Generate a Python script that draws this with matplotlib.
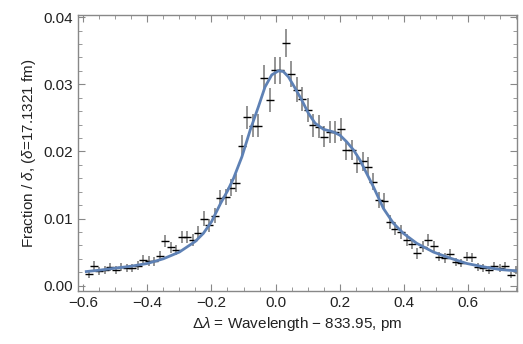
import numpy as np
import matplotlib
matplotlib.use('Agg')
import matplotlib.pyplot as plt
from matplotlib.ticker import MultipleLocator

plt.rcParams['font.family'] = ['Liberation Sans', 'DejaVu Sans']
plt.rcParams['mathtext.fontset'] = 'custom'
plt.rcParams['mathtext.rm'] = 'Liberation Sans'
plt.rcParams['mathtext.it'] = 'Liberation Sans:italic'

# measured points
x_data = [-0.583, -0.566, -0.549, -0.532, -0.515, -0.498, -0.481, -0.463, -0.446, -0.429,
          -0.412, -0.395, -0.378, -0.361, -0.344, -0.327, -0.310, -0.293, -0.276, -0.258,
          -0.241, -0.224, -0.207, -0.190, -0.173, -0.156, -0.139, -0.122, -0.105, -0.088,
          -0.071, -0.054, -0.036, -0.019, -0.002, 0.015, 0.032, 0.049, 0.066, 0.083,
          0.100, 0.117, 0.134, 0.151, 0.168, 0.186, 0.203, 0.220, 0.237, 0.254,
          0.271, 0.288, 0.305, 0.322, 0.339, 0.356, 0.373, 0.390, 0.408, 0.425,
          0.442, 0.459, 0.476, 0.493, 0.510, 0.527, 0.544, 0.561, 0.578, 0.595,
          0.612, 0.630, 0.647, 0.664, 0.681, 0.698, 0.715, 0.732, 0.749]
y_data = [0.0017, 0.0030, 0.0022, 0.0023, 0.0028, 0.0023, 0.0028, 0.0026, 0.0026, 0.0030,
          0.0038, 0.0037, 0.0036, 0.0044, 0.0067, 0.0057, 0.0053, 0.0072, 0.0073, 0.0068,
          0.0079, 0.0100, 0.0090, 0.0104, 0.0130, 0.0132, 0.0146, 0.0153, 0.0208, 0.0251,
          0.0238, 0.0238, 0.0309, 0.0276, 0.0321, 0.0321, 0.0362, 0.0315, 0.0292, 0.0278,
          0.0262, 0.0239, 0.0237, 0.0222, 0.0229, 0.0229, 0.0233, 0.0202, 0.0202, 0.0182,
          0.0185, 0.0177, 0.0155, 0.0128, 0.0126, 0.0095, 0.0085, 0.0080, 0.0068, 0.0062,
          0.0048, 0.0058, 0.0068, 0.0059, 0.0043, 0.0041, 0.0047, 0.0035, 0.0034, 0.0043,
          0.0042, 0.0028, 0.0027, 0.0023, 0.0029, 0.0027, 0.0029, 0.0016, 0.0023]
y_err = [0.0006, 0.0006, 0.0006, 0.0006, 0.0006, 0.0006, 0.0006, 0.0006, 0.0006, 0.0006,
         0.0007, 0.0007, 0.0007, 0.0007, 0.0009, 0.0008, 0.0008, 0.0009, 0.0009, 0.0009,
         0.0010, 0.0011, 0.0010, 0.0011, 0.0012, 0.0012, 0.0013, 0.0013, 0.0016, 0.0017,
         0.0017, 0.0017, 0.0019, 0.0018, 0.0020, 0.0020, 0.0021, 0.0019, 0.0019, 0.0018,
         0.0018, 0.0017, 0.0017, 0.0016, 0.0017, 0.0017, 0.0017, 0.0015, 0.0015, 0.0014,
         0.0014, 0.0014, 0.0013, 0.0012, 0.0012, 0.0011, 0.0010, 0.0010, 0.0009, 0.0008,
         0.0008, 0.0008, 0.0009, 0.0008, 0.0007, 0.0007, 0.0007, 0.0006, 0.0006, 0.0007,
         0.0007, 0.0006, 0.0006, 0.0006, 0.0006, 0.0006, 0.0006, 0.0005, 0.0006]

# fitted curve
x_fit = [-0.59, -0.55, -0.5, -0.45, -0.4, -0.35, -0.3, -0.25, -0.225, -0.2, -0.171,
         -0.15, -0.131, -0.105, -0.079, -0.054, -0.033, -0.012, 0.009, 0.024, 0.040,
         0.061, 0.082, 0.102, 0.123, 0.149, 0.180, 0.201, 0.222, 0.243, 0.263, 0.305,
         0.336, 0.367, 0.398, 0.440, 0.492, 0.544, 0.596, 0.648, 0.700, 0.752]
y_fit = [0.0021, 0.0023, 0.0026, 0.0029, 0.0033, 0.0040, 0.0050, 0.0066, 0.0078, 0.0095,
         0.0123, 0.0141, 0.0160, 0.0192, 0.0232, 0.0266, 0.0296, 0.0314, 0.0320, 0.0319,
         0.0311, 0.0294, 0.0276, 0.0257, 0.0242, 0.0233, 0.0229, 0.0224, 0.0214, 0.0202,
         0.0187, 0.0147, 0.0115, 0.0093, 0.0078, 0.0063, 0.0050, 0.0041, 0.0033, 0.0028,
         0.0024, 0.0022]

fig = plt.figure(figsize=(5.23, 3.44), dpi=100)
ax = fig.add_axes([0.149, 0.154, 0.840, 0.802])

ax.errorbar(x_data, y_data, yerr=y_err, fmt='none', ecolor='#777777', elinewidth=1.1)
ax.plot(x_data, y_data, ls='none', marker='_', ms=6, mew=1.0, color='black')
ax.plot(x_fit, y_fit, color='#5E81B5', lw=2.0, solid_joinstyle='round')

ax.set_xlim(-0.616, 0.753)
ax.set_ylim(-0.0008, 0.0403)
ax.xaxis.set_major_locator(MultipleLocator(0.2))
ax.xaxis.set_minor_locator(MultipleLocator(0.05))
ax.yaxis.set_major_locator(MultipleLocator(0.01))
ax.yaxis.set_minor_locator(MultipleLocator(0.002))
ax.xaxis.set_major_formatter(plt.FuncFormatter(lambda v, p: f'{v:.1f}'.replace('-', '\u2212')))
ax.yaxis.set_major_formatter(plt.FuncFormatter(lambda v, p: f'{v:.2f}'))

for s in ax.spines.values():
    s.set_color('#888888')
    s.set_linewidth(1.0)
ax.tick_params(which='both', direction='in', top=True, right=True, color='#888888',
               labelsize=11, labelcolor='#222222')
ax.tick_params(which='major', length=5)
ax.tick_params(which='minor', length=3)

ax.set_xlabel(r'$\Delta\it{\lambda}$ = Wavelength \u2212 833.95, pm'.replace('\\u2212', '\u2212'),
              fontsize=11, color='#222222')
ax.set_ylabel(r'Fraction / $\it{\delta}$, ($\it{\delta}$=17.1321 fm)', fontsize=11, color='#222222')

fig.savefig('out.png', dpi=100)
